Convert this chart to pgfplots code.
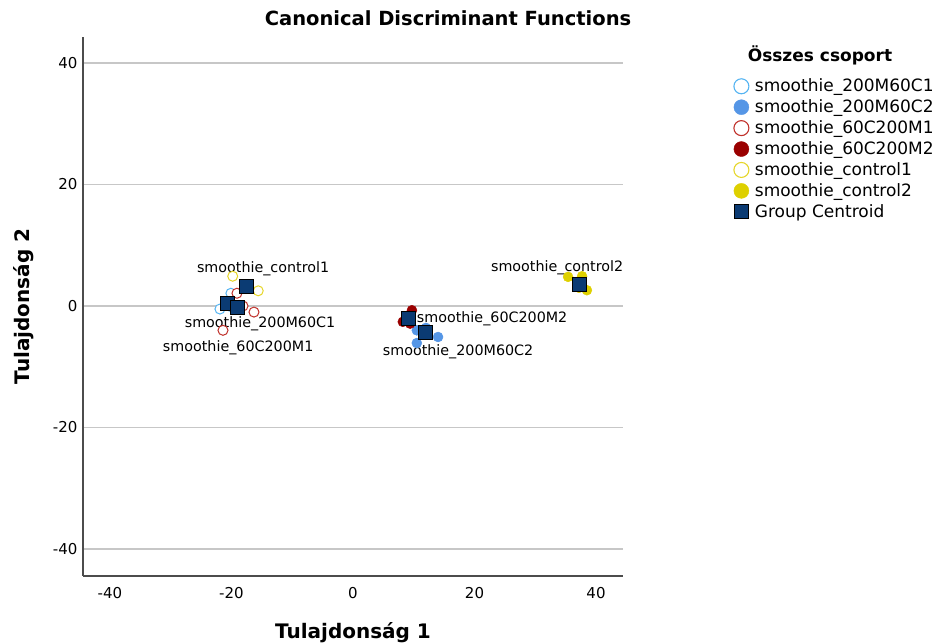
\documentclass[border=0pt]{standalone}
\usepackage{pgfplots}
\pgfplotsset{compat=1.18}
\usepackage{fontspec}
\setmainfont{DejaVu Sans}
\definecolor{cA}{HTML}{55B4F2}
\definecolor{cB}{HTML}{5596E6}
\definecolor{cC}{HTML}{C0302A}
\definecolor{cD}{HTML}{9A0000}
\definecolor{cE}{HTML}{E6D62A}
\definecolor{cF}{HTML}{DED000}
\definecolor{cG}{HTML}{0B3B73}
\begin{document}
\begin{tikzpicture}[x=1pt,y=1pt]
\useasboundingbox (0,0) rectangle (938,644);
\node[font=\fontsize{19.5}{22}\selectfont\bfseries] at (448,626) {Canonical Discriminant Functions};
\begin{axis}[
  at={(83pt,68pt)}, anchor=south west,
  scale only axis, width=540pt, height=539pt,
  xmin=-44.44, xmax=44.44, ymin=-44.44, ymax=44.28,
  xtick={-40,-20,0,20,40}, ytick={-40,-20,0,20,40},
  major tick length=0pt,
  axis lines=left, axis line style={-, draw=black!70, line width=1.1pt},
  ymajorgrids, grid style={draw=black!22, line width=1.5pt},
  tick label style={font=\fontsize{15}{17}\selectfont},
  /pgf/number format/assume math mode=true,
  xticklabel style={yshift=-8pt},
  yticklabel style={xshift=-2pt},
  xlabel={Tulajdonság 1}, ylabel={Tulajdonság 2},
  label style={font=\fontsize{20}{23}\selectfont\bfseries},
  xlabel style={yshift=-17pt},
  ylabel style={yshift=12pt},
  clip=false,
  legend style={at={(1.205,0.926)}, anchor=north west, draw=none, fill=none,
    font=\fontsize{17}{19}\selectfont, inner sep=0pt, row sep=2.5pt, column sep=4pt,
    cells={anchor=west}},
]
% group points
\addplot[only marks, mark=*, mark size=5pt, draw=cA, fill=white, line width=1pt, forget plot]
  coordinates {(-20.1,2.1) (-21.9,-0.5) (-20.1,-0.1)};
\addplot[only marks, mark=*, mark size=5pt, draw=cB, fill=cB, forget plot]
  coordinates {(10.5,-4.0) (14.0,-5.1) (10.5,-6.1) (12.0,-3.6)};
\addplot[only marks, mark=*, mark size=5pt, draw=cC, fill=white, line width=1pt, forget plot]
  coordinates {(-19.1,2.1) (-18.1,0.0) (-16.3,-1.0) (-21.4,-4.0)};
\addplot[only marks, mark=*, mark size=5pt, draw=cD, fill=cD, forget plot]
  coordinates {(9.7,-0.7) (8.2,-2.6) (9.1,-1.8) (9.4,-2.9)};
\addplot[only marks, mark=*, mark size=5pt, draw=cE, fill=white, line width=1pt, forget plot]
  coordinates {(-19.8,4.9) (-15.6,2.5) (-17.4,3.3)};
\addplot[only marks, mark=*, mark size=5pt, draw=cF, fill=cF, forget plot]
  coordinates {(35.4,4.8) (37.7,4.9) (38.5,2.6) (37.2,3.0)};
% centroids
\addplot[only marks, mark=square*, mark size=7pt, draw=black, fill=cG, line width=0.9pt, forget plot]
  coordinates {(-20.7,0.5) (11.9,-4.4) (-19.1,-0.3) (9.05,-2.0) (-17.6,3.3) (37.2,3.5)};
% legend images
\addlegendimage{only marks, mark=*, mark size=7.5pt, draw=cA, fill=white, line width=1.1pt}
\addlegendentry{smoothie\_200M60C1}
\addlegendimage{only marks, mark=*, mark size=7.5pt, draw=cB, fill=cB}
\addlegendentry{smoothie\_200M60C2}
\addlegendimage{only marks, mark=*, mark size=7.5pt, draw=cC, fill=white, line width=1.1pt}
\addlegendentry{smoothie\_60C200M1}
\addlegendimage{only marks, mark=*, mark size=7.5pt, draw=cD, fill=cD}
\addlegendentry{smoothie\_60C200M2}
\addlegendimage{only marks, mark=*, mark size=7.5pt, draw=cE, fill=white, line width=1.1pt}
\addlegendentry{smoothie\_control1}
\addlegendimage{only marks, mark=*, mark size=7.5pt, draw=cF, fill=cF}
\addlegendentry{smoothie\_control2}
\addlegendimage{only marks, mark=square*, mark size=7pt, draw=black, fill=cG, line width=0.9pt}
\addlegendentry{Group Centroid}
% point labels
\begin{scope}[font=\fontsize{14.3}{16}\selectfont]
\node at (axis cs:-14.8,6.1) {smoothie\_control1};
\node at (axis cs:-15.3,-3.0) {smoothie\_200M60C1};
\node at (axis cs:-18.9,-6.9) {smoothie\_60C200M1};
\node at (axis cs:22.9,-2.1) {smoothie\_60C200M2};
\node at (axis cs:17.3,-7.6) {smoothie\_200M60C2};
\node at (axis cs:33.6,6.3) {smoothie\_control2};
\end{scope}
\end{axis}
\node[font=\fontsize{17}{19}\selectfont\bfseries] at (820,589) {Összes csoport};
\end{tikzpicture}
\end{document}
